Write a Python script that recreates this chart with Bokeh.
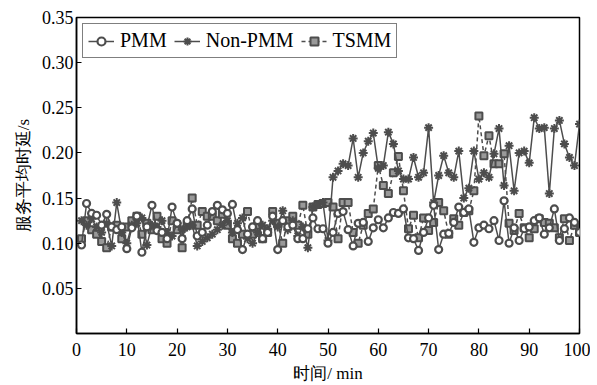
from bokeh.plotting import figure
from bokeh.models import Legend, LegendItem, FixedTicker, PrintfTickFormatter, Range1d
from bokeh.embed import file_html
from bokeh.resources import INLINE

minutes = list(range(1, 101))

pmm = [0.098, 0.144, 0.133, 0.131, 0.120, 0.132, 0.118, 0.115, 0.118, 0.094,
       0.117, 0.130, 0.090, 0.118, 0.142, 0.114, 0.112, 0.105, 0.140, 0.122,
       0.105, 0.125, 0.138, 0.108, 0.112, 0.120, 0.135, 0.142, 0.137, 0.133,
       0.143, 0.115, 0.093, 0.110, 0.118, 0.125, 0.105, 0.112, 0.130, 0.093,
       0.125, 0.118, 0.120, 0.105, 0.105, 0.116, 0.128, 0.116, 0.116, 0.100,
       0.112, 0.133, 0.135, 0.115, 0.097, 0.122, 0.123, 0.102, 0.117, 0.126,
       0.117, 0.128, 0.134, 0.133, 0.138, 0.106, 0.105, 0.092, 0.112, 0.128,
       0.142, 0.093, 0.110, 0.111, 0.123, 0.140, 0.134, 0.138, 0.101, 0.117,
       0.120, 0.116, 0.125, 0.103, 0.147, 0.100, 0.117, 0.103, 0.116, 0.118,
       0.125, 0.128, 0.110, 0.117, 0.138, 0.103, 0.116, 0.128, 0.123, 0.112]

non_pmm = [0.125, 0.120, 0.127, 0.118, 0.112, 0.122, 0.097, 0.145, 0.112, 0.100,
           0.120, 0.122, 0.128, 0.098, 0.120, 0.118, 0.125, 0.112, 0.108, 0.122,
           0.115, 0.118, 0.120, 0.097, 0.102, 0.106, 0.110, 0.115, 0.120, 0.125,
           0.112, 0.122, 0.128, 0.105, 0.100, 0.112, 0.120, 0.116, 0.125, 0.118,
           0.136, 0.115, 0.125, 0.108, 0.118, 0.095, 0.140, 0.143, 0.145, 0.103,
           0.173, 0.180, 0.188, 0.186, 0.216, 0.173, 0.200, 0.213, 0.222, 0.183,
           0.186, 0.223, 0.210, 0.180, 0.171, 0.171, 0.195, 0.173, 0.178, 0.228,
           0.145, 0.175, 0.197, 0.178, 0.173, 0.202, 0.150, 0.161, 0.202, 0.171,
           0.178, 0.173, 0.199, 0.227, 0.164, 0.208, 0.158, 0.200, 0.202, 0.189,
           0.239, 0.227, 0.228, 0.155, 0.227, 0.236, 0.210, 0.195, 0.186, 0.232]

tsmm = [0.105, 0.125, 0.115, 0.110, 0.102, 0.095, 0.118, 0.120, 0.105, 0.118,
        0.125, 0.130, 0.110, 0.122, 0.115, 0.130, 0.105, 0.100, 0.125, 0.115,
        0.095, 0.120, 0.150, 0.120, 0.135, 0.130, 0.130, 0.125, 0.132, 0.120,
        0.105, 0.100, 0.110, 0.135, 0.110, 0.120, 0.105, 0.112, 0.135, 0.122,
        0.100, 0.125, 0.130, 0.120, 0.142, 0.110, 0.140, 0.143, 0.144, 0.145,
        0.140, 0.105, 0.145, 0.145, 0.112, 0.100, 0.120, 0.133, 0.138, 0.186,
        0.164, 0.155, 0.178, 0.196, 0.158, 0.116, 0.131, 0.106, 0.128, 0.114,
        0.123, 0.145, 0.136, 0.110, 0.127, 0.120, 0.134, 0.136, 0.158, 0.241,
        0.197, 0.219, 0.188, 0.188, 0.199, 0.122, 0.114, 0.133, 0.117, 0.106,
        0.116, 0.127, 0.123, 0.122, 0.117, 0.106, 0.127, 0.103, 0.120, 0.112]

x_ticks = [0, 10, 20, 30, 40, 50, 60, 70, 80, 90, 100]
y_ticks = [0.05, 0.10, 0.15, 0.20, 0.25, 0.30, 0.35]

x_label = "时间/ min"
y_label = "服务平均时延/s"

FONT = "Liberation Serif"
GRAY = "#4d4d4d"

p = figure(width=590, height=385, output_backend="svg", toolbar_location=None,
           x_range=Range1d(0, 100), y_range=Range1d(0, 0.35),
           min_border_left=76, min_border_right=11, min_border_top=17, min_border_bottom=52)

p.xgrid.visible = False
p.ygrid.visible = False
p.outline_line_color = "black"
p.outline_line_width = 1.5
p.background_fill_color = "white"
p.border_fill_color = "white"

for ax in (p.xaxis[0], p.yaxis[0]):
    ax.major_tick_in = 5
    ax.major_tick_out = 0
    ax.minor_tick_in = 0
    ax.minor_tick_out = 0
    ax.axis_line_width = 1.5
    ax.axis_line_color = "black"
    ax.major_tick_line_width = 1.2
    ax.major_label_text_font = FONT
    ax.major_label_text_font_size = "18px"
    ax.major_label_text_color = "black"
    ax.axis_label_text_font = FONT
    ax.axis_label_text_font_size = "17px"
    ax.axis_label_text_font_style = "normal"
    ax.axis_label_text_color = "black"

p.xaxis.ticker = FixedTicker(ticks=x_ticks)
p.yaxis.ticker = FixedTicker(ticks=y_ticks)
p.yaxis.formatter = PrintfTickFormatter(format="%.2f")
p.xaxis.axis_label = x_label
p.yaxis.axis_label = y_label
p.xaxis.major_label_standoff = 9
p.yaxis.major_label_standoff = 3
p.xaxis.axis_label_standoff = 5
p.yaxis.axis_label_standoff = 6

# TSMM
l3 = p.line(minutes, tsmm, line_color=GRAY, line_width=1.5, line_dash="4 3")
s3 = p.scatter(minutes, tsmm, marker="square", size=7, line_color=GRAY, line_width=2,
               fill_color="#999999")
# Non-PMM
l2 = p.line(minutes, non_pmm, line_color=GRAY, line_width=1.5)
s2 = p.scatter(minutes, non_pmm, marker="asterisk", size=9, line_color=GRAY, line_width=2)
# PMM
l1 = p.line(minutes, pmm, line_color=GRAY, line_width=1.5)
s1 = p.scatter(minutes, pmm, marker="circle", size=7, line_color=GRAY, line_width=2.2,
               fill_color="white")

legend = Legend(items=[
    LegendItem(label="PMM", renderers=[l1, s1]),
    LegendItem(label="Non-PMM", renderers=[l2, s2]),
    LegendItem(label="TSMM", renderers=[l3, s3]),
], orientation="horizontal", location="top_left")
legend.label_text_font = FONT
legend.label_text_font_size = "20px"
legend.label_text_color = "black"
legend.border_line_color = "black"
legend.border_line_width = 1.5
legend.glyph_width = 26
legend.glyph_height = 20
legend.label_standoff = 6
legend.spacing = 7
legend.padding = 5
legend.margin = 6
legend.background_fill_alpha = 1.0
p.add_layout(legend)

open("out.html", "w").write(file_html(p, INLINE))
